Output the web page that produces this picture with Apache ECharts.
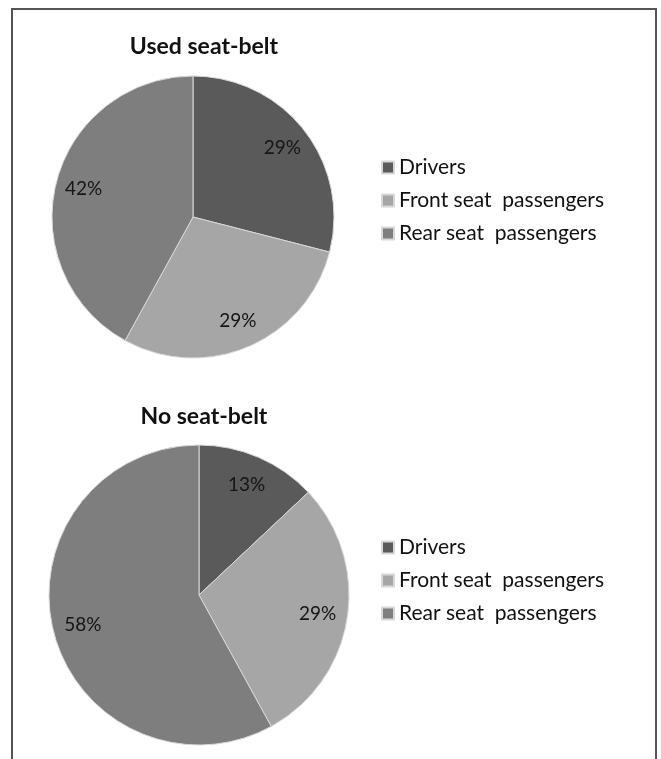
<!DOCTYPE html>
<html>
<head>
<meta charset="utf-8">
<script src="https://cdn.jsdelivr.net/npm/echarts@6/dist/echarts.min.js"></script>
<style>
  html, body { margin: 0; padding: 0; background: #fff; }
  #main { width: 661px; height: 759px; }
</style>
</head>
<body>
<div id="main"></div>
<script>
var categories = ['Drivers', 'Front seat  passengers', 'Rear seat  passengers'];
var usedBelt = [29, 29, 42];
var noBelt = [13, 29, 58];
var sliceColors = ['#5a5a5a', '#a6a6a6', '#7e7e7e'];

var FONT = 'Lato';

function toData(values) {
    return values.map(function (v, i) {
        return { name: categories[i], value: v, itemStyle: { color: sliceColors[i] } };
    });
}

function pieSeries(values, center, r) {
    return {
        type: 'pie',
        center: center,
        radius: r,
        startAngle: 90,
        clockwise: true,
        label: { show: false },
        labelLine: { show: false },
        itemStyle: { borderColor: '#d8d8d8', borderWidth: 1 },
        emphasis: { disabled: true },
        data: toData(values)
    };
}

// transparent ring on top, only used to place the % labels further out
function labelSeries(values, center, r) {
    return {
        type: 'pie',
        center: center,
        radius: [Math.round(r * 0.56), r],
        startAngle: 90,
        clockwise: true,
        silent: true,
        itemStyle: { color: 'rgba(0,0,0,0)' },
        label: {
            show: true,
            position: 'inside',
            formatter: '{c}%',
            color: '#151515',
            fontFamily: FONT,
            fontSize: 19
        },
        labelLine: { show: false },
        emphasis: { disabled: true },
        data: values.map(function (v, i) { return { name: categories[i], value: v }; })
    };
}

function legendAt(top) {
    return {
        orient: 'vertical',
        left: 376,
        top: top,
        icon: 'rect',
        itemWidth: 12,
        itemHeight: 12,
        itemGap: 12,
        selectedMode: false,
        data: categories,
        textStyle: { fontFamily: FONT, fontSize: 21, lineHeight: 21, color: '#111' }
    };
}

var myChart = echarts.init(document.getElementById('main'));

var option = {
    backgroundColor: '#fff',
    animation: false,
    title: [
        {
            text: 'Used seat-belt', left: 199, top: 30, textAlign: 'center',
            textStyle: { fontFamily: FONT, fontSize: 23, fontWeight: 'bold', color: '#111' }
        },
        {
            text: 'No seat-belt', left: 199, top: 400, textAlign: 'center',
            textStyle: { fontFamily: FONT, fontSize: 23, fontWeight: 'bold', color: '#111' }
        }
    ],
    legend: [legendAt(152), legendAt(532)],
    graphic: [
        {
            type: 'rect',
            shape: { x: 12, y: 9, width: 644, height: 770 },
            style: { fill: null, stroke: '#555', lineWidth: 2 },
            silent: true
        }
    ],
    series: [
        pieSeries(usedBelt, [193, 217], 141),
        pieSeries(noBelt, [199, 595], 150),
        labelSeries(usedBelt, [193, 217], 141),
        labelSeries(noBelt, [199, 595], 150)
    ]
};

myChart.setOption(option);
</script>
</body>
</html>
